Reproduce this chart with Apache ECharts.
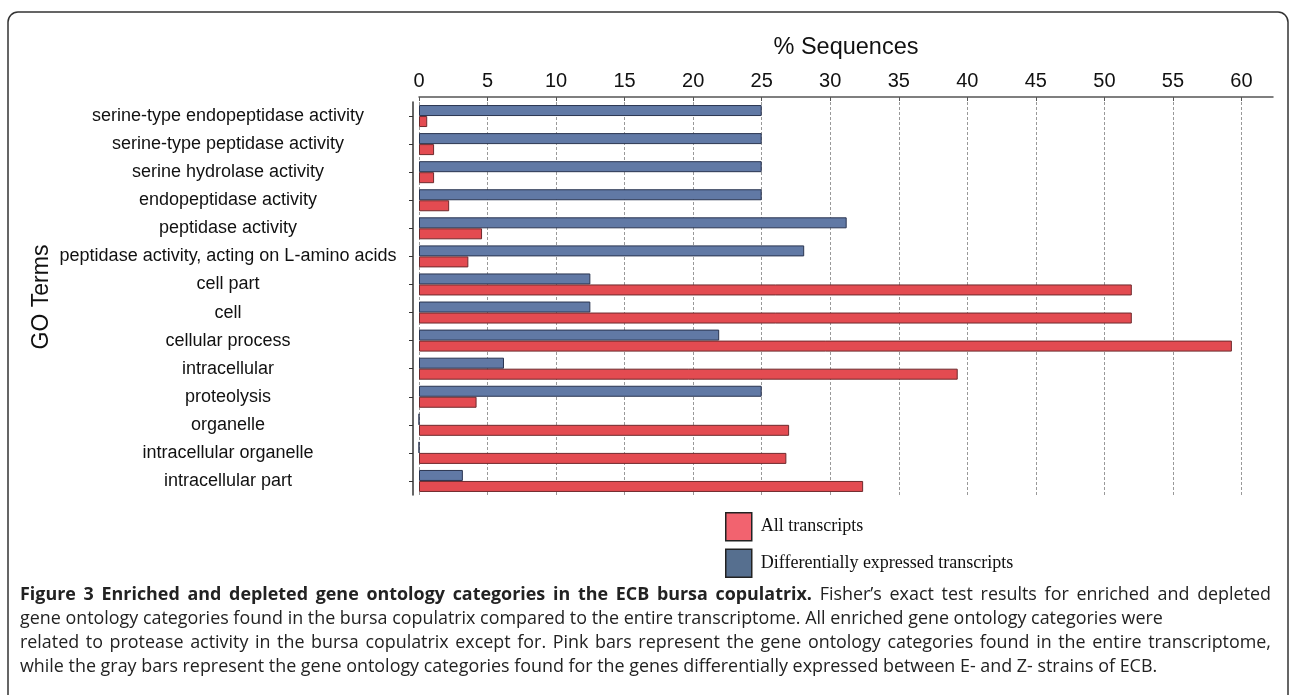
<!DOCTYPE html>
<html>
<head>
<meta charset="utf-8">
<script src="https://cdn.jsdelivr.net/npm/echarts@6/dist/echarts.min.js"></script>
<style>
html,body{margin:0;padding:0;background:#fff;}
#chart{width:1290px;height:695px;}
</style>
</head>
<body>
<div id="chart"></div>
<script>
const categories = [
  'serine-type endopeptidase activity',
  'serine-type peptidase activity',
  'serine hydrolase activity',
  'endopeptidase activity',
  'peptidase activity',
  'peptidase activity, acting on L-amino acids',
  'cell part',
  'cell',
  'cellular process',
  'intracellular',
  'proteolysis',
  'organelle',
  'intracellular organelle',
  'intracellular part'
];
const diffExpressed = [25, 25, 25, 25, 31.2, 28.1, 12.5, 12.5, 21.9, 6.2, 25, 0, 0, 3.2];
const allTranscripts = [0.6, 1.1, 1.1, 2.2, 4.6, 3.6, 52.0, 52.0, 59.3, 39.3, 4.2, 27.0, 26.8, 32.4];
const xTicks = [0, 5, 10, 15, 20, 25, 30, 35, 40, 45, 50, 55, 60];

const captionBold = 'Figure 3 Enriched and depleted gene ontology categories in the ECB bursa copulatrix.';
const captionLines = [
  'Fisher\u2019s exact test results for enriched and depleted',
  'gene ontology categories found in the bursa copulatrix compared to the entire transcriptome. All enriched gene ontology categories were',
  'related to protease activity in the bursa copulatrix except for. Pink bars represent the gene ontology categories found in the entire transcriptome,',
  'while the gray bars represent the gene ontology categories found for the genes differentially expressed between E- and Z- strains of ECB.'
];
const captionJustify = [true, false, true, false];

const chart = echarts.init(document.getElementById('chart'));
const sans = 'Liberation Sans, Arial, Helvetica, sans-serif';
const capFamily = '"Open Sans", sans-serif';
const capSize = 17.9;
const capLeft = 20, capRight = 1271, capTop = 586, capStep = 24;

const graphics = [
  {
    type: 'rect',
    shape: { x: 8, y: 12, width: 1280, height: 800, r: 10 },
    style: { fill: 'none', stroke: '#333', lineWidth: 1.5 },
    z: 0
  },
  {
    type: 'text',
    x: 42,
    y: 297,
    rotation: Math.PI / 2,
    style: {
      text: 'GO Terms',
      fontFamily: sans,
      fontSize: 23,
      fill: '#111',
      align: 'center',
      verticalAlign: 'middle'
    }
  }
];

// caption layout (word positions for justified lines)
const cv = document.createElement('canvas').getContext('2d');
function measure(word, bold) {
  cv.font = (bold ? 'bold ' : '') + capSize + 'px ' + capFamily;
  return cv.measureText(word).width;
}
captionLines.forEach((line, i) => {
  let words = line.split(' ').map(w => ({ w: w, bold: false }));
  if (i === 0) {
    words = captionBold.split(' ').map(w => ({ w: w, bold: true })).concat(words);
  }
  const widths = words.map(o => measure(o.w, o.bold));
  const total = widths.reduce((a, b) => a + b, 0);
  const spaceW = measure(' ', false);
  let gap = captionJustify[i] ? (capRight - capLeft - total) / (words.length - 1) : spaceW;
  if (gap < spaceW * 0.6) gap = spaceW * 0.6;
  let x = capLeft;
  words.forEach((o, k) => {
    graphics.push({
      type: 'text',
      x: x,
      y: capTop + i * capStep,
      style: {
        text: o.w,
        fontFamily: capFamily,
        fontSize: capSize,
        fontWeight: o.bold ? 'bold' : 'normal',
        fill: '#222',
        textVerticalAlign: 'top'
      }
    });
    x += widths[k] + gap;
  });
});

chart.setOption({
  animation: false,
  backgroundColor: '#fff',
  grid: { left: 419, right: 17, top: 102, bottom: 200, containLabel: false },
  legend: {
    orient: 'vertical',
    left: 725,
    top: 512,
    padding: 0,
    itemWidth: 26,
    itemHeight: 28,
    itemGap: 7,
    icon: 'rect',
    textStyle: { fontFamily: 'Liberation Serif, Times New Roman, serif', fontSize: 18, color: '#111', padding: [0, 0, 0, 4] },
    data: [
      { name: 'All transcripts', itemStyle: { color: '#f2636f', borderColor: '#222', borderWidth: 1.5 } },
      { name: 'Differentially expressed transcripts', itemStyle: { color: '#566f8f', borderColor: '#222', borderWidth: 1.5 } }
    ]
  },
  xAxis: {
    type: 'value',
    position: 'top',
    offset: 5,
    min: 0,
    max: 62.3,
    interval: 5,
    name: '% Sequences',
    nameLocation: 'middle',
    nameGap: 37,
    nameTextStyle: { fontFamily: sans, fontSize: 23.5, color: '#111' },
    axisLine: { show: true, lineStyle: { color: '#555', width: 1.5 } },
    axisTick: { show: true, inside: true, length: 4, lineStyle: { color: '#555' }, customValues: xTicks },
    axisLabel: { fontFamily: sans, fontSize: 20, color: '#111', margin: 6, customValues: xTicks },
    splitLine: { show: true, lineStyle: { color: '#999', type: [3, 2], width: 1 } }
  },
  yAxis: {
    type: 'category',
    inverse: true,
    data: categories,
    offset: 6,
    axisLine: { show: true, onZero: false, lineStyle: { color: '#333', width: 1.5 } },
    axisTick: { show: true, alignWithLabel: true, length: 4, lineStyle: { color: '#333' } },
    axisLabel: { fontFamily: sans, fontSize: 18, color: '#111', align: 'center', margin: 185 },
    splitLine: { show: false }
  },
  series: [
    {
      name: 'Differentially expressed transcripts',
      type: 'bar',
      data: diffExpressed,
      barWidth: 11,
      barGap: '0%',
      itemStyle: { color: '#6179a5', borderColor: '#2a3550', borderWidth: 1 }
    },
    {
      name: 'All transcripts',
      type: 'bar',
      data: allTranscripts,
      barWidth: 11,
      barGap: '0%',
      itemStyle: { color: '#e34b51', borderColor: '#6e2a2d', borderWidth: 1 }
    }
  ],
  graphic: graphics
});
</script>
</body>
</html>
